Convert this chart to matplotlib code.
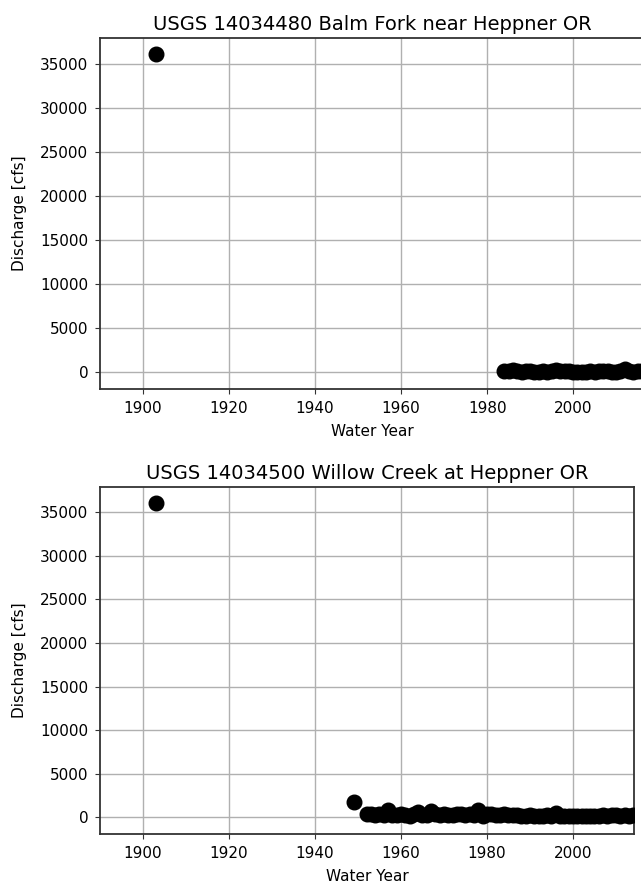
import matplotlib.pyplot as plt

# annual peak discharge [cfs]
balm_title = "USGS 14034480 Balm Fork near Heppner OR"
balm_years = [1903] + list(range(1984, 2017))
balm_peaks = [36100,
              180, 120, 260, 90, 60, 150, 110, 70, 40, 130,
              60, 140, 310, 170, 90, 120, 60, 40, 80, 70,
              110, 60, 150, 90, 100, 70, 80, 120, 340, 90,
              70, 110, 130]

willow_title = "USGS 14034500 Willow Creek at Heppner OR"
willow_years = [1903, 1949] + list(range(1952, 2015))
willow_peaks = [36100, 1800,
                350, 420, 300, 380, 250, 900, 330, 280, 450, 300,
                220, 380, 620, 260, 310, 700, 400, 280, 350, 240,
                300, 420, 380, 260, 340, 300, 850, 220, 350, 410,
                280, 330, 450, 260, 300, 240, 180, 210, 260, 150,
                200, 160, 230, 190, 560, 220, 160, 140, 200, 180,
                130, 160, 210, 150, 190, 240, 170, 300, 230, 180,
                250, 200, 280]

W, H = 641, 884


def peak_plot(ax, years, peaks, title, xmax):
    ax.plot(years, peaks, 'o', color='black', markersize=10.5, zorder=3)
    ax.set_xlim(1890, xmax)
    ax.set_ylim(-1900, 37900)
    ax.set_xticks([1900, 1920, 1940, 1960, 1980, 2000])
    ax.set_yticks(range(0, 35001, 5000))
    ax.grid(True, color='#b0b0b0', linewidth=1)
    ax.set_axisbelow(True)
    for s in ax.spines.values():
        s.set_color('#333333')
        s.set_linewidth(1.3)
    ax.tick_params(labelsize=11, color='#333333', pad=5)
    ax.set_xlabel("Water Year", fontsize=11, labelpad=6)
    ax.set_ylabel("Discharge [cfs]", fontsize=11, labelpad=9)
    ax.set_title(title, fontsize=14)


fig = plt.figure(figsize=(W / 100, H / 100), dpi=100)

# top panel runs a bit past the right edge (cropped in the original)
ax1 = fig.add_axes([100 / W, (H - 389) / H, 545 / W, 351 / H])
peak_plot(ax1, balm_years, balm_peaks, balm_title, 2016.7)

ax2 = fig.add_axes([100 / W, (H - 834) / H, 534 / W, 347 / H])
peak_plot(ax2, willow_years, willow_peaks, willow_title, 2014.2)

fig.savefig("out.png", dpi=100)
